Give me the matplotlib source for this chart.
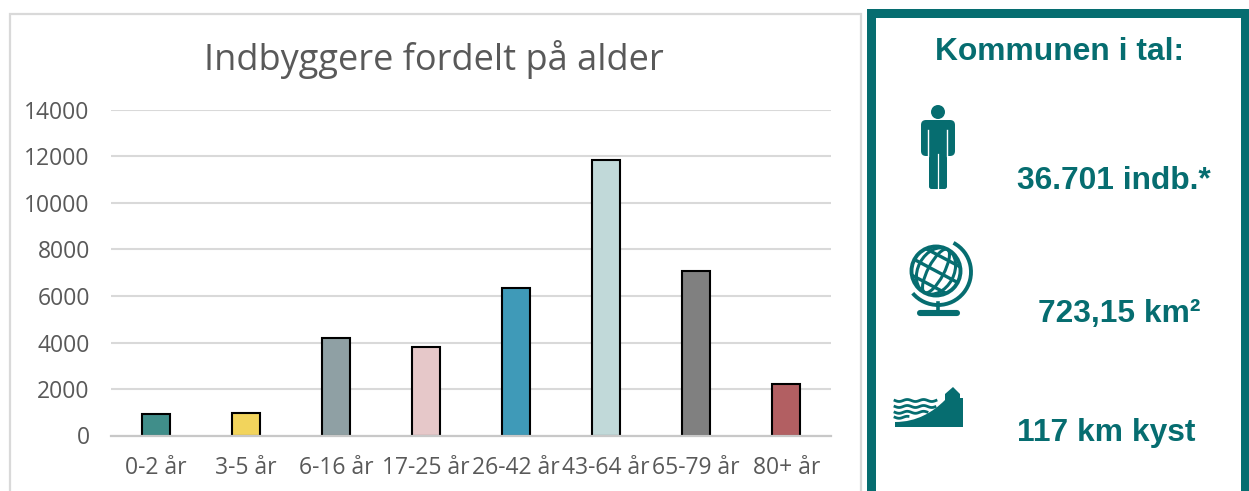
import numpy as np
import matplotlib
matplotlib.use("Agg")
import matplotlib.pyplot as plt
from matplotlib.patches import Rectangle, Circle, Ellipse, Arc, FancyBboxPatch, PathPatch
from matplotlib.path import Path

categories = ["0-2 år", "3-5 år", "6-16 år", "17-25 år", "26-42 år", "43-64 år", "65-79 år", "80+ år"]
values = [930, 970, 4180, 3800, 6350, 11850, 7080, 2230]
bar_colors = ["#408E8A", "#F2D45C", "#8FA0A4", "#E6C8C9", "#3F9AB8", "#C1D9D9", "#808080", "#B25F62"]
yticks = [0, 2000, 4000, 6000, 8000, 10000, 12000, 14000]
title = "Indbyggere fordelt på alder"
panel_title = "Kommunen i tal:"
panel_items = ["36.701 indb.*", "723,15 km²", "117 km kyst"]

TEAL = "#066D70"
GREY = "#595959"
W, H = 1249, 491
fig = plt.figure(figsize=(W / 100, H / 100), dpi=100, facecolor="white")

# overlay in pixel coordinates for the frames and icons
ov = fig.add_axes([0, 0, 1, 1], zorder=0)
ov.set_xlim(0, W); ov.set_ylim(H, 0); ov.axis("off")

# chart frame
ov.plot([10, 10, 861, 861], [H + 5, 14, 14, H + 5], color="#D9D9D9", lw=1.6, solid_joinstyle="miter")
# panel frame
ov.add_patch(Rectangle((867, 9), 382, H, fc=TEAL, ec="none"))
ov.add_patch(Rectangle((876, 18), 365, H, fc="white", ec="none"))

# chart
ax = fig.add_axes([111.3 / W, 1 - 435.5 / H, 720 / W, 325.5 / H], zorder=2)
ax.patch.set_alpha(0)
x = np.arange(len(categories))
ax.bar(x, values, width=0.31, color=bar_colors, edgecolor="black", linewidth=1.5, zorder=3)
ax.set_xlim(-0.5, len(categories) - 0.5)
ax.set_ylim(0, 14000)
ax.set_yticks(yticks)
ax.set_xticks(x)
ax.set_xticklabels(categories)
ax.tick_params(length=0, labelcolor=GREY, labelsize=16.5)
ax.tick_params(axis="y", pad=15.5)
ax.tick_params(axis="x", pad=15)
for lab in ax.get_xticklabels() + ax.get_yticklabels():
    lab.set_family("Open Sans")
ax.grid(axis="y", color="#D9D9D9", lw=1.5, zorder=1)
ax.set_axisbelow(True)
for s in ax.spines.values():
    s.set_visible(False)
ax.axhline(0, color="#C8C8C8", lw=1.6, zorder=5, clip_on=False)

ov.text(434, 59, title, ha="center", va="center", color=GREY, fontsize=26, family="Open Sans")

# panel text
txt = dict(color=TEAL, fontweight="bold", family="Liberation Sans", va="center", ha="left")
ov.text(935, 52, panel_title, fontsize=22.9, **txt)
ov.text(1017, 181, panel_items[0], fontsize=22.9, **txt)
ov.text(1038, 314, panel_items[1], fontsize=22.9, **txt)
ov.text(1017, 433, panel_items[2], fontsize=22.9, **txt)

# person icon
ov.add_patch(Circle((938, 112), 7, fc=TEAL, ec="none"))
ov.add_patch(FancyBboxPatch((924, 123), 28, 30, boxstyle="round,pad=3,rounding_size=5", fc=TEAL, ec="none"))
ov.add_patch(FancyBboxPatch((931, 140), 14, 47, boxstyle="round,pad=2,rounding_size=2.5", fc=TEAL, ec="none"))
ov.plot([938, 938], [154, 188], color="white", lw=0.9)
ov.plot([928.5, 928.5], [130, 156], color="white", lw=1.0)
ov.plot([947.5, 947.5], [130, 156], color="white", lw=1.0)

# globe icon
gc = (936, 271); r = 24.5
ov.add_patch(Circle(gc, r, fc="none", ec=TEAL, lw=2.8))
ov.add_patch(Arc((938, 272), 66, 66, angle=0, theta1=-62, theta2=140, ec=TEAL, lw=2.8))
clip = Circle(gc, r, transform=ov.transData)
tilt = 28
for w in (16, 36):
    e = Ellipse(gc, w, 2 * r, angle=tilt, fc="none", ec=TEAL, lw=2.2)
    ov.add_patch(e)
    e.set_clip_path(clip)
for off in (-15, 0, 15):
    d = np.array([np.cos(np.radians(tilt)), np.sin(np.radians(tilt))])
    n = np.array([-d[1], d[0]])
    c = np.array(gc) + n * off
    hw = np.sqrt(r ** 2 - off ** 2)
    p0, p1 = c - d * hw, c + d * hw
    ln, = ov.plot([p0[0], p1[0]], [p0[1], p1[1]], color=TEAL, lw=2.4)
    ln.set_clip_path(clip)
ov.plot([938, 938], [303, 312], color=TEAL, lw=2.6)
ov.plot([920, 957], [313, 313], color=TEAL, lw=4.4, solid_capstyle="round")

# coast icon
land = Path(
    [(895, 427), (895, 422), (917, 422), (933, 412), (945, 400), (945, 394), (953, 387), (960, 394),
     (960, 398), (963, 398), (963, 427), (895, 427)],
    [Path.MOVETO, Path.LINETO, Path.CURVE4, Path.CURVE4, Path.CURVE4, Path.LINETO, Path.LINETO, Path.LINETO,
     Path.LINETO, Path.LINETO, Path.LINETO, Path.CLOSEPOLY])
ov.add_patch(PathPatch(land, fc=TEAL, ec="none"))
for y0, x1 in ((400.5, 936), (406.5, 935), (412.3, 927), (417.3, 908)):
    xs = np.linspace(895, x1, 60)
    ov.plot(xs, y0 + 1.0 * np.sin((xs - 895) / 2.6), color=TEAL, lw=2.0)

fig.savefig("out.png", dpi=100, facecolor="white")
